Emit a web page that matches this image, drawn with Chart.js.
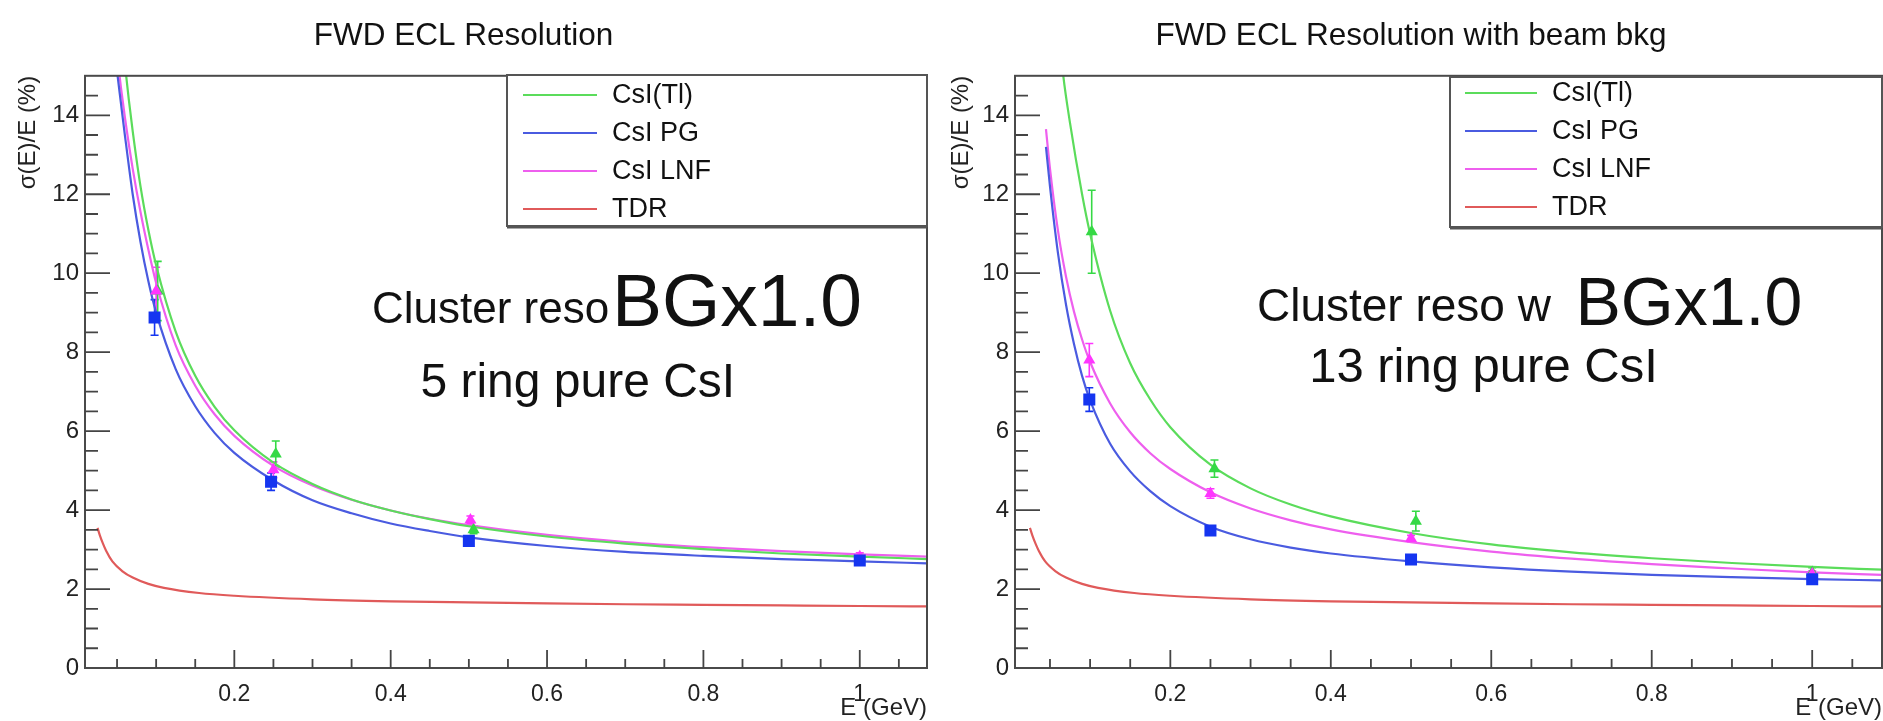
<!DOCTYPE html>
<html><head><meta charset="utf-8">
<script src="https://cdn.jsdelivr.net/npm/chart.js@4.4.1/dist/chart.umd.min.js"></script>
<style>
html,body{margin:0;padding:0;background:#fff;overflow:hidden;width:1883px;height:721px;}
#wrapL{position:absolute;left:0;top:0;width:940px;height:721px;}
#wrapR{position:absolute;left:940px;top:0;width:1154px;height:721px;}
canvas{display:block;}
</style></head><body>
<div id="wrapL"><canvas id="cL" width="940" height="721" style="width:940px;height:721px"></canvas></div>
<div id="wrapR"><canvas id="cR" width="1154" height="721" style="width:1154px;height:721px"></canvas></div>
<script>
// ---------- data ----------
const xTickLabels = [0.2, 0.4, 0.6, 0.8, 1];
const yTickLabels = [0, 2, 4, 6, 8, 10, 12, 14];
const seriesNames = ['CsI(Tl)', 'CsI PG', 'CsI LNF', 'TDR'];
const panelTitles = ['FWD ECL Resolution', 'FWD ECL Resolution with beam bkg'];

// TDR reference curve (same in both panels)
const tdrE   = [0.025, 0.028, 0.032, 0.036, 0.044, 0.057, 0.07, 0.09, 0.11, 0.155, 0.2, 0.3, 0.4, 0.5, 0.6, 0.7, 0.8, 0.9, 1.0, 1.086];
const tdrRes = [3.55, 3.36, 3.15, 2.97, 2.7, 2.45, 2.29, 2.13, 2.03, 1.9, 1.83, 1.74, 1.69, 1.66, 1.635, 1.615, 1.6, 1.585, 1.57, 1.56];

// Left panel: fitted curves
const leftTlE   = [0.05, 0.055, 0.06, 0.065, 0.07, 0.08, 0.09, 0.1, 0.125, 0.15, 0.175, 0.2, 0.25, 0.3, 0.35, 0.4, 0.45, 0.5, 0.6, 0.7, 0.8, 0.9, 1.0, 1.086];
const leftTlRes = [17.4, 16.3, 15.3, 14.4, 13.6, 12.2, 11.1, 10.2, 8.52, 7.4, 6.61, 6.02, 5.2, 4.66, 4.27, 3.99, 3.77, 3.59, 3.33, 3.15, 3.01, 2.9, 2.82, 2.76];
const leftPgE   = [0.04, 0.047, 0.055, 0.06, 0.07, 0.08, 0.09, 0.1, 0.125, 0.15, 0.175, 0.2, 0.25, 0.3, 0.35, 0.4, 0.45, 0.5, 0.6, 0.7, 0.8, 0.9, 1.0, 1.086];
const leftPgRes = [16.8, 15.6, 14.3, 13.5, 12.0, 10.79, 9.8, 9.0, 7.57, 6.63, 5.95, 5.45, 4.75, 4.25, 3.92, 3.66, 3.47, 3.31, 3.09, 2.94, 2.84, 2.76, 2.7, 2.65];
const leftLnfE   = [0.045, 0.05, 0.055, 0.06, 0.07, 0.08, 0.09, 0.1, 0.125, 0.15, 0.175, 0.2, 0.25, 0.3, 0.35, 0.4, 0.45, 0.5, 0.6, 0.7, 0.8, 0.9, 1.0, 1.086];
const leftLnfRes = [16.5, 15.55, 14.7, 13.95, 12.65, 11.55, 10.6, 9.75, 8.17, 7.15, 6.42, 5.88, 5.12, 4.62, 4.26, 3.99, 3.78, 3.62, 3.37, 3.19, 3.06, 2.96, 2.88, 2.82];

// Left panel: measured points and errors
const leftTlPtE = [0.102, 0.253, 0.506, 1.0];
const leftTlPt  = [9.55, 5.42, 3.5, 2.78];
const leftTlErr = [0.75, 0.33, 0.1, 0.1];
const leftLnfPtE = [0.1, 0.25, 0.502, 1.0];
const leftLnfPt  = [9.55, 5.02, 3.75, 2.82];
const leftLnfErr = [0.6, 0.2, 0.1, 0.1];
const leftPgPtE = [0.098, 0.247, 0.5, 1.0];
const leftPgPt  = [8.88, 4.72, 3.22, 2.72];
const leftPgErr = [0.45, 0.22, 0.1, 0.08];

// Right panel: fitted curves
const rightTlE   = [0.06, 0.066, 0.075, 0.09, 0.1, 0.125, 0.15, 0.175, 0.2, 0.25, 0.3, 0.35, 0.4, 0.5, 0.6, 0.7, 0.8, 0.9, 1.0, 1.087];
const rightTlRes = [16.4, 15.1, 13.8, 12.0, 11.0, 9.05, 7.72, 6.8, 6.1, 5.15, 4.55, 4.14, 3.84, 3.42, 3.13, 2.93, 2.78, 2.66, 2.56, 2.49];
const rightPgE   = [0.045, 0.05, 0.06, 0.07, 0.08, 0.09, 0.1, 0.125, 0.15, 0.175, 0.2, 0.25, 0.3, 0.35, 0.4, 0.5, 0.6, 0.7, 0.8, 0.9, 1.0, 1.087];
const rightPgRes = [13.2, 12.2, 10.5, 9.2, 8.2, 7.4, 6.78, 5.68, 4.98, 4.48, 4.1, 3.58, 3.26, 3.05, 2.9, 2.7, 2.55, 2.44, 2.36, 2.3, 2.25, 2.22];
const rightLnfE   = [0.045, 0.05, 0.06, 0.07, 0.08, 0.09, 0.1, 0.125, 0.15, 0.175, 0.2, 0.25, 0.3, 0.35, 0.4, 0.5, 0.6, 0.7, 0.8, 0.9, 1.0, 1.087];
const rightLnfRes = [13.65, 12.65, 11.07, 9.91, 9.02, 8.32, 7.75, 6.7, 5.97, 5.44, 5.04, 4.45, 4.04, 3.74, 3.51, 3.19, 2.95, 2.77, 2.63, 2.52, 2.42, 2.36];

// Right panel: measured points and errors
const rightTlPtE = [0.102, 0.255, 0.506, 1.0];
const rightTlPt  = [11.05, 5.05, 3.72, 2.42];
const rightTlErr = [1.05, 0.22, 0.25, 0.12];
const rightLnfPtE = [0.099, 0.25, 0.5, 1.0];
const rightLnfPt  = [7.8, 4.42, 3.28, 2.38];
const rightLnfErr = [0.42, 0.12, 0.08, 0.08];
const rightPgPtE = [0.099, 0.25, 0.5, 1.0];
const rightPgPt  = [6.8, 3.48, 2.75, 2.25];
const rightPgErr = [0.3, 0.08, 0.08, 0.06];

// ---------- styling ----------
const FONT = "'Liberation Sans', Arial, Helvetica, sans-serif";
const LINE = {tl: '#5bdc5b', pg: '#4a5be0', lnf: '#ee5fee', tdr: '#e05a5a'};
const MARK = {tl: '#35d945', pg: '#1535f0', lnf: '#ff35ff'};

const toPts = (xs, ys) => xs.map((x, i) => ({x: x, y: ys[i]}));

function curveDs(label, xs, ys, color) {
  return {label, data: toPts(xs, ys), showLine: true, borderColor: color, backgroundColor: color,
    borderWidth: 2.2, pointRadius: 0, cubicInterpolationMode: 'monotone', isCurve: true};
}
function pointDs(label, xs, ys, errs, color, style, r) {
  return {label, data: toPts(xs, ys), showLine: false, errors: errs, borderColor: color,
    backgroundColor: color, pointStyle: style, pointRadius: r, borderWidth: 0, isCurve: false};
}

const rootPlugin = {
  id: 'rootStyle',
  beforeDatasetsDraw(chart) {
    const ctx = chart.ctx, xs = chart.scales.x, ys = chart.scales.y;
    chart.data.datasets.forEach(ds => {
      if (!ds.errors) return;
      ctx.save();
      ctx.strokeStyle = ds.borderColor; ctx.lineWidth = 1.6;
      ds.data.forEach((p, j) => {
        const e = ds.errors[j];
        const px = xs.getPixelForValue(p.x);
        const yt = ys.getPixelForValue(p.y + e), yb = ys.getPixelForValue(p.y - e);
        ctx.beginPath();
        ctx.moveTo(px, yt); ctx.lineTo(px, yb);
        ctx.moveTo(px - 4, yt); ctx.lineTo(px + 4, yt);
        ctx.moveTo(px - 4, yb); ctx.lineTo(px + 4, yb);
        ctx.stroke();
      });
      ctx.restore();
    });
  },
  afterDraw(chart, args, opts) {
    const ctx = chart.ctx, a = chart.chartArea, xs = chart.scales.x, ys = chart.scales.y;
    ctx.save();
    // frame
    ctx.strokeStyle = '#4a4a4a'; ctx.lineWidth = 2;
    ctx.strokeRect(a.left, a.top, a.right - a.left, a.bottom - a.top);
    // inside ticks, y
    ctx.lineWidth = 1.8; ctx.strokeStyle = '#444';
    ctx.beginPath();
    for (let k = 1; k <= 29; k++) {
      const v = k * 0.5;
      const py = ys.getPixelForValue(v);
      const len = yTickLabels.includes(v) ? 25 : 13;
      ctx.moveTo(a.left, py); ctx.lineTo(a.left + len, py);
    }
    // inside ticks, x
    for (let k = 1; k <= 21; k++) {
      const v = Math.round(k * 5) / 100;
      if (v < xs.min || v > xs.max) continue;
      const px = xs.getPixelForValue(v);
      const len = xTickLabels.some(t => Math.abs(t - v) < 1e-9) ? 18 : 9;
      ctx.moveTo(px, a.bottom); ctx.lineTo(px, a.bottom - len);
    }
    ctx.stroke();

    // legend box
    const L = opts.legendBox;
    ctx.fillStyle = '#fff';
    ctx.fillRect(L.left, L.top, L.right - L.left, L.bottom - L.top);
    ctx.strokeStyle = '#555'; ctx.lineWidth = 2;
    ctx.strokeRect(L.left, L.top, L.right - L.left, L.bottom - L.top);
    ctx.lineWidth = 3; ctx.beginPath();
    ctx.moveTo(L.left, L.bottom + 1); ctx.lineTo(L.right, L.bottom + 1); ctx.stroke();
    const curves = chart.data.datasets.filter(d => d.isCurve);
    ctx.font = '27px ' + FONT; ctx.textBaseline = 'middle'; ctx.textAlign = 'left';
    curves.forEach((d, i) => {
      const y = L.top + L.rowStart + i * L.rowStep;
      ctx.strokeStyle = d.borderColor; ctx.lineWidth = 2.2;
      ctx.beginPath(); ctx.moveTo(L.left + L.lineFrom, y); ctx.lineTo(L.left + L.lineTo, y); ctx.stroke();
      ctx.fillStyle = '#111';
      ctx.fillText(d.label, L.left + L.textAt, y + 1);
    });

    // annotations
    ctx.fillStyle = '#111'; ctx.textBaseline = 'alphabetic';
    opts.notes.forEach(n => {
      ctx.font = (n.weight || 'normal') + ' ' + n.size + 'px ' + FONT;
      ctx.fillText(n.text, xs.getPixelForValue(n.x), ys.getPixelForValue(n.y));
    });
    ctx.restore();
  }
};

function buildChart(id, p) {
  const datasets = [
    pointDs(seriesNames[1], p.pg.ptE, p.pg.pt, p.pg.err, MARK.pg, 'rect', 8.5),
    pointDs(seriesNames[2], p.lnf.ptE, p.lnf.pt, p.lnf.err, MARK.lnf, 'triangle', 7),
    pointDs(seriesNames[0], p.tl.ptE, p.tl.pt, p.tl.err, MARK.tl, 'triangle', 7),
    curveDs(seriesNames[0], p.tl.e, p.tl.res, LINE.tl),
    curveDs(seriesNames[1], p.pg.e, p.pg.res, LINE.pg),
    curveDs(seriesNames[2], p.lnf.e, p.lnf.res, LINE.lnf),
    curveDs(seriesNames[3], tdrE, tdrRes, LINE.tdr)
  ];
  return new Chart(document.getElementById(id), {
    type: 'scatter',
    data: {datasets},
    options: {
      responsive: false, animation: false, devicePixelRatio: 1,
      layout: {padding: {left: 0, right: p.padRight, top: 0, bottom: 0}},
      plugins: {
        legend: {display: false}, tooltip: {enabled: false},
        title: {display: true, text: p.title, color: '#111',
          font: {family: FONT, size: 31.5, weight: 'normal'}, padding: {top: 17, bottom: 21}},
        rootStyle: {legendBox: p.legendBox, notes: p.notes}
      },
      scales: {
        x: {
          type: 'linear', min: p.xMin, max: p.xMax,
          afterBuildTicks: s => { s.ticks = xTickLabels.map(v => ({value: v})); },
          afterFit: s => { s.height = 53; },
          grid: {display: false, drawTicks: false}, border: {display: false},
          ticks: {color: '#222', font: {family: FONT, size: 23}, padding: 13, maxRotation: 0,
            autoSkip: false, callback: v => String(v)},
          title: {display: true, text: 'E (GeV)', align: 'end', color: '#222',
            font: {family: FONT, size: 24}, padding: {top: 0, bottom: -2}}
        },
        y: {
          type: 'linear', min: 0, max: 15,
          afterBuildTicks: s => { s.ticks = yTickLabels.map(v => ({value: v})); },
          afterFit: s => { s.width = p.yAxisWidth; },
          grid: {display: false, drawTicks: false}, border: {display: false},
          ticks: {color: '#222', font: {family: FONT, size: 24}, padding: 6, autoSkip: false,
            callback: v => String(v)},
          title: {display: true, text: 'σ(E)/E (%)', align: 'end', color: '#222',
            font: {family: FONT, size: 24}, padding: {top: p.yTitlePad, bottom: 0}}
        }
      }
    },
    plugins: [rootPlugin]
  });
}

buildChart('cL', {
  title: panelTitles[0], xMin: 0.009, xMax: 1.086, padRight: 13, yAxisWidth: 85, yTitlePad: 14,
  tl: {e: leftTlE, res: leftTlRes, ptE: leftTlPtE, pt: leftTlPt, err: leftTlErr},
  pg: {e: leftPgE, res: leftPgRes, ptE: leftPgPtE, pt: leftPgPt, err: leftPgErr},
  lnf: {e: leftLnfE, res: leftLnfRes, ptE: leftLnfPtE, pt: leftLnfPt, err: leftLnfErr},
  legendBox: {left: 507, top: 75, right: 927, bottom: 226, rowStart: 20, rowStep: 38, lineFrom: 16, lineTo: 90, textAt: 105},
  notes: [
    {text: 'Cluster reso', x: 0.376, y: 8.73, size: 44},
    {text: 'BGx1.0', x: 0.683, y: 8.65, size: 75},
    {text: '5 ring pure CsI', x: 0.438, y: 6.86, size: 48}
  ]
});

buildChart('cR', {
  title: panelTitles[1], xMin: 0.0064, xMax: 1.087, padRight: 212, yAxisWidth: 75, yTitlePad: 7,
  tl: {e: rightTlE, res: rightTlRes, ptE: rightTlPtE, pt: rightTlPt, err: rightTlErr},
  pg: {e: rightPgE, res: rightPgRes, ptE: rightPgPtE, pt: rightPgPt, err: rightPgErr},
  lnf: {e: rightLnfE, res: rightLnfRes, ptE: rightLnfPtE, pt: rightLnfPt, err: rightLnfErr},
  legendBox: {left: 510, top: 77, right: 942, bottom: 227, rowStart: 16, rowStep: 38, lineFrom: 15, lineTo: 87, textAt: 102},
  notes: [
    {text: 'Cluster reso w', x: 0.308, y: 8.78, size: 46},
    {text: 'BGx1.0', x: 0.705, y: 8.68, size: 68},
    {text: '13 ring pure CsI', x: 0.373, y: 7.25, size: 49}
  ]
});
</script>
</body></html>
